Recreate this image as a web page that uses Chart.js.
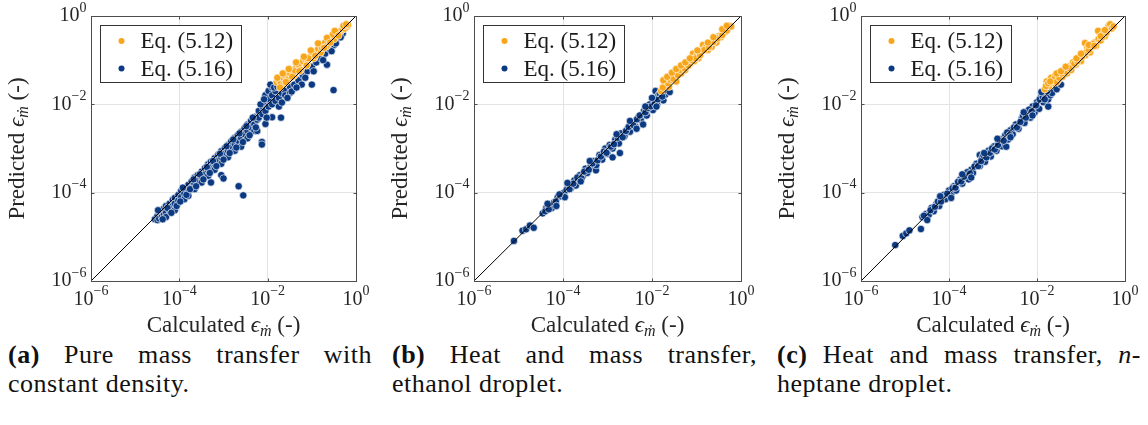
<!DOCTYPE html>
<html>
<head>
<meta charset="utf-8">
<script src="https://cdn.jsdelivr.net/npm/chart.js@4.4.0/dist/chart.umd.min.js"></script>
<style>
  body { margin: 0; background: #fff; }
  #wrap { position: relative; width: 1148px; height: 425px; overflow: hidden; }
  canvas { position: absolute; top: 0; }
  .cap { position: absolute; top: 340px; font: 26px "Liberation Serif", serif; letter-spacing: 0.5px; line-height: 29px; color: #111; }
  .cap .l1 { text-align: justify; text-align-last: justify; white-space: nowrap; }
</style>
</head>
<body>
<div id="wrap">
  <canvas id="chartA" width="380" height="340" style="left:0px"></canvas>
  <canvas id="chartB" width="380" height="340" style="left:380px"></canvas>
  <canvas id="chartC" width="388" height="340" style="left:760px"></canvas>

  <div class="cap" style="left:8px; width:364px">
    <div class="l1"><b>(a)</b> Pure mass transfer with</div>
    <div>constant density.</div>
  </div>
  <div class="cap" style="left:392px; width:365px">
    <div class="l1"><b>(b)</b> Heat and mass transfer,</div>
    <div>ethanol droplet.</div>
  </div>
  <div class="cap" style="left:777px; width:364px">
    <div class="l1"><b>(c)</b> Heat and mass transfer, <i>n</i>-</div>
    <div>heptane droplet.</div>
  </div>
</div>

<script>
// log axes, same decades on x and y
const tickValues = [1e-6, 1e-4, 1e-2, 1];
const tickExponents = ['\u22126', '\u22124', '\u22122', '0'];
const seriesNames = ['Eq. (5.12)', 'Eq. (5.16)'];
const identityLine = [[1e-6, 1e-6], [1, 1]];
const xTitle = ['Calculated ', '\u03F5', '\u1E41', ' (-)'];
const yTitle = ['Predicted ', '\u03F5', '\u1E41', ' (-)'];

const ORANGE = '#f7a61c';
const NAVY = '#0b3a83';

// pairs are [calculated, predicted]

// (a) pure mass transfer, constant density
const pureBlue = [
  [2.8e-5,2.5e-5],[3.2e-5,3.0e-5],[3.2e-5,2.4e-5],[3.5e-5,3.5e-5],[3.5e-5,2.6e-5],[4.0e-5,3.8e-5],
  [4.0e-5,2.8e-5],[4.5e-5,4.4e-5],[4.5e-5,3.2e-5],[5.0e-5,5.0e-5],[5.0e-5,3.5e-5],[5.0e-5,2.8e-5],
  [6.0e-5,5.6e-5],[6.0e-5,4.0e-5],[7.1e-5,6.9e-5],[7.1e-5,5.0e-5],[7.9e-5,7.6e-5],[7.9e-5,5.6e-5],
  [7.9e-5,4.0e-5],[9.5e-5,8.9e-5],[9.5e-5,6.6e-5],[1.1e-4,1.1e-4],[1.1e-4,7.9e-5],[1.3e-4,1.26e-4],
  [1.3e-4,9.5e-5],[1.3e-4,7.1e-5],[1.6e-4,1.5e-4],[1.6e-4,1.1e-4],[1.6e-4,8.5e-5],[1.9e-4,1.8e-4],
  [1.9e-4,1.3e-4],[2.2e-4,2.2e-4],[2.2e-4,1.6e-4],[2.2e-4,1.2e-4],[2.6e-4,2.5e-4],[2.6e-4,1.9e-4],
  [3.2e-4,3.0e-4],[3.2e-4,2.2e-4],[3.2e-4,1.7e-4],[3.8e-4,3.6e-4],[3.8e-4,2.6e-4],[4.5e-4,4.4e-4],
  [4.5e-4,3.2e-4],[4.5e-4,2.4e-4],[5.2e-4,5.0e-4],[5.2e-4,3.8e-4],[5.2e-4,1.7e-4],[6.3e-4,6.0e-4],
  [6.3e-4,4.5e-4],[6.3e-4,3.3e-4],[7.6e-4,7.2e-4],[7.6e-4,5.2e-4],[8.9e-4,8.7e-4],[8.9e-4,6.3e-4],
  [8.9e-4,4.5e-4],[8.9e-4,2.5e-4],[1.0e-3,2.1e-4],[1.07e-3,1.02e-3],[1.07e-3,7.6e-4],[1.26e-3,1.2e-3],
  [1.26e-3,8.9e-4],[1.26e-3,6.3e-4],[1.5e-3,1.45e-3],[1.5e-3,1.05e-3],[1.8e-3,1.75e-3],[1.8e-3,1.26e-3],
  [1.8e-3,8.9e-4],[2.1e-3,2.0e-3],[2.1e-3,1.5e-3],[2.2e-3,1.4e-4],[2.5e-3,2.4e-3],[2.5e-3,1.75e-3],
  [2.5e-3,1.1e-3],[2.8e-3,8.7e-5],[3.0e-3,2.9e-3],[3.0e-3,2.1e-3],[3.5e-3,3.5e-3],[3.5e-3,2.5e-3],
  [3.5e-3,1.7e-3],[4.2e-3,4.2e-3],[4.2e-3,3.0e-3],[5.0e-3,5.2e-3],[5.0e-3,3.5e-3],[5.0e-3,2.5e-3],
  [5.8e-3,4.5e-3],[5.8e-3,2.5e-3],[6.3e-3,7.1e-3],[6.3e-3,5.0e-3],[7.4e-3,1.4e-3],[7.4e-3,1.23e-3],
  [7.6e-3,8.9e-3],[7.6e-3,6.0e-3],[8.9e-3,1.6e-2],[8.9e-3,1.1e-2],[8.9e-3,7.1e-3],[8.9e-3,3.6e-3],
  [1.05e-2,2.0e-2],[1.05e-2,1.3e-2],[1.05e-2,8.9e-3],[1.26e-2,2.4e-2],[1.26e-2,1.6e-2],[1.26e-2,1.0e-2],
  [1.26e-2,5.1e-3],[1.5e-2,2.8e-2],[1.5e-2,2.0e-2],[1.5e-2,1.2e-2],[1.8e-2,1.4e-2],[1.8e-2,8.9e-3],
  [2.0e-2,5.0e-3],[2.1e-2,1.8e-2],[2.1e-2,1.1e-2],[2.5e-2,2.0e-2],[2.5e-2,1.6e-2],[3.2e-2,2.5e-2],
  [3.2e-2,1.8e-2],[3.5e-2,1.95e-2],[4.0e-2,2.8e-2],[5.0e-2,3.5e-2],[5.9e-2,2.8e-2],[6.3e-2,4.5e-2],
  [7.9e-2,5.6e-2],[0.1,7.1e-2],[0.1,2.8e-2],[0.126,8.9e-2],[0.16,0.11],[0.2,0.14],[0.22,7.9e-2],
  [0.25,0.18],[0.31,2.1e-2],[0.32,0.22],[0.4,0.32],[0.5,0.4],
  [3.3e-5,4.0e-5],[4.2e-5,2.5e-5],[5.4e-5,4.5e-5],[6.6e-5,3.5e-5],[8.7e-5,5.0e-5],[1.05e-4,6.3e-5],
  [1.2e-4,1.3e-4],[1.45e-4,8.9e-5],[1.75e-4,1.2e-4],[2.1e-4,2.0e-4],[2.4e-4,1.4e-4],[2.9e-4,2.6e-4],
  [3.5e-4,2.0e-4],[4.2e-4,3.8e-4],[4.9e-4,2.8e-4],[5.8e-4,5.2e-4],[6.9e-4,4.0e-4],[8.3e-4,7.6e-4],
  [1.0e-3,5.6e-4],[1.17e-3,1.12e-3],[1.38e-3,7.9e-4],[1.66e-3,1.6e-3],[1.95e-3,1.05e-3],[2.3e-3,2.2e-3],
  [2.75e-3,1.4e-3],[3.3e-3,3.2e-3],[3.9e-3,2.0e-3],[4.6e-3,5.0e-3],[5.4e-3,3.0e-3],[6.9e-3,1.0e-2],
  [8.3e-3,1.3e-2],[9.5e-3,5.0e-3],[1.15e-2,2.8e-2],[1.4e-2,2.4e-2],[1.66e-2,2.5e-2],[2.8e-2,1.4e-2],
  [4.5e-2,2.4e-2],[7.1e-2,4.0e-2],[0.11,5.6e-2],[0.18,0.1],[0.28,0.16],[0.35,0.24],[0.45,0.33]
];
const pureOrange = [
  [1.6e-2,3.2e-2],[1.8e-2,3.5e-2],[2.0e-2,3.0e-2],[2.2e-2,4.0e-2],[2.5e-2,4.5e-2],[2.8e-2,3.5e-2],
  [3.2e-2,5.2e-2],[3.5e-2,6.0e-2],[4.0e-2,4.5e-2],[4.5e-2,7.1e-2],[5.0e-2,7.9e-2],[5.6e-2,6.0e-2],
  [6.3e-2,9.5e-2],[7.1e-2,0.105],[7.9e-2,8.3e-2],[8.9e-2,0.12],[0.1,0.14],[0.11,0.11],[0.126,0.16],
  [0.14,0.18],[0.16,0.15],[0.18,0.22],[0.2,0.25],[0.22,0.21],[0.25,0.3],[0.28,0.35],[0.32,0.3],
  [0.35,0.42],[0.4,0.44],[0.45,0.46],[0.5,0.5],[0.56,0.52],[0.63,0.58],[0.66,0.63],[2.4e-2,3.0e-2],
  [4.2e-2,5.6e-2],[8.3e-2,0.11],[0.17,0.19],[0.3,0.38],
  [1.66e-2,4.0e-2],[1.9e-2,2.4e-2],[2.2e-2,5.0e-2],[2.6e-2,3.2e-2],[3.0e-2,6.3e-2],[3.6e-2,4.2e-2],
  [4.4e-2,8.9e-2],[5.2e-2,5.6e-2],[6.6e-2,0.12],[7.6e-2,7.6e-2],[9.5e-2,0.166],[0.12,0.126],
  [0.138,0.24],[0.19,0.19],[0.22,0.32],[0.26,0.25],[0.33,0.46],[0.4,0.36],[0.52,0.6],[0.6,0.65]
];

// (b) heat and mass transfer, ethanol droplet
const ethanolBlue = [
  [7.9e-6,8.1e-6],[1.23e-5,1.38e-5],[1.48e-5,1.48e-5],[1.8e-5,1.8e-5],[2.2e-5,1.6e-5],[3.5e-5,3.4e-5],
  [4.2e-5,4.5e-5],[5.0e-5,5.2e-5],[5.6e-5,4.5e-5],[6.3e-5,6.0e-5],[7.6e-5,7.9e-5],[8.9e-5,8.3e-5],
  [1.05e-4,1.0e-4],[1.1e-4,7.9e-5],[1.3e-4,1.4e-4],[1.5e-4,1.26e-4],[1.8e-4,1.9e-4],[1.95e-4,1.45e-4],
  [2.4e-4,2.5e-4],[2.8e-4,2.4e-4],[3.2e-4,3.5e-4],[3.5e-4,2.8e-4],[4.2e-4,4.0e-4],[5.0e-4,5.2e-4],
  [5.5e-4,3.2e-4],[5.6e-4,4.2e-4],[6.6e-4,7.1e-4],[7.6e-4,5.6e-4],[8.9e-4,1.0e-3],[1.0e-3,7.6e-4],
  [1.12e-3,1.2e-3],[1.3e-3,1.0e-3],[1.3e-3,6.3e-4],[1.5e-3,1.6e-3],[1.8e-3,1.3e-3],[1.9e-3,7.9e-4],
  [2.0e-3,2.2e-3],[2.4e-3,1.9e-3],[2.8e-3,2.8e-3],[3.2e-3,2.4e-3],[3.5e-3,3.8e-3],[4.2e-3,3.2e-3],
  [5.0e-3,5.2e-3],[5.6e-3,4.4e-3],[6.3e-3,3.5e-3],[6.6e-3,7.1e-3],[7.6e-3,5.6e-3],[8.9e-3,1.0e-2],
  [1.0e-2,7.9e-3],[1.05e-2,7.4e-3],[1.12e-2,1.26e-2],[1.2e-2,2.0e-2],[1.3e-2,1.0e-2],[1.4e-2,1.6e-2],
  [1.6e-2,1.4e-2],[1.8e-2,1.23e-2],[1.8e-2,1.9e-2],[2.0e-2,1.66e-2],[2.2e-2,2.1e-2],[2.5e-2,1.9e-2],
  [4.0e-5,3.8e-5],[4.8e-5,4.2e-5],[6.9e-5,6.3e-5],[8.3e-5,9.1e-5],[1.2e-4,1.15e-4],[1.4e-4,1.2e-4],
  [1.7e-4,1.6e-4],[2.1e-4,2.2e-4],[2.6e-4,2.1e-4],[3.0e-4,3.0e-4],[3.8e-4,3.3e-4],[4.6e-4,4.6e-4],
  [6.0e-4,5.4e-4],[7.1e-4,6.6e-4],[8.3e-4,8.5e-4],[9.5e-4,8.0e-4],[1.2e-3,1.1e-3],[1.4e-3,1.25e-3],
  [1.7e-3,1.75e-3],[2.2e-3,1.8e-3],[2.6e-3,2.5e-3],[3.0e-3,3.1e-3],[3.8e-3,3.4e-3],[4.6e-3,4.6e-3],
  [5.3e-3,5.6e-3],[7.1e-3,6.6e-3],[8.3e-3,8.3e-3],[9.5e-3,9.0e-3],[1.15e-2,1.05e-2],[1.35e-2,1.3e-2],
  [1.5e-2,1.75e-2],[1.7e-2,1.5e-2],
  [4.5e-5,5.6e-5],[7.1e-5,5.0e-5],[1.26e-4,1.66e-4],[2.5e-4,1.8e-4],[4.0e-4,5.2e-4],[1.6e-3,2.1e-3],
  [3.2e-3,4.2e-3],[4.5e-3,2.8e-3],[7.1e-3,8.9e-3],[1.0e-2,1.4e-2],[1.26e-2,8.9e-3]
];
const ethanolOrange = [
  [1.6e-2,2.0e-2],[1.9e-2,2.8e-2],[2.1e-2,3.3e-2],[2.4e-2,2.5e-2],[2.8e-2,4.0e-2],[3.2e-2,4.5e-2],
  [3.5e-2,3.3e-2],[4.0e-2,5.6e-2],[4.5e-2,5.0e-2],[5.0e-2,7.1e-2],[5.6e-2,6.0e-2],[6.3e-2,8.3e-2],
  [7.1e-2,8.1e-2],[8.3e-2,0.14],[8.9e-2,9.5e-2],[0.1,0.126],[0.11,0.11],[0.126,0.15],[0.14,0.22],
  [0.16,0.19],[0.18,0.17],[0.2,0.22],[0.22,0.2],[0.25,0.28],[0.28,0.25],[0.32,0.35],[0.35,0.33],
  [0.4,0.42],[0.45,0.44],[0.5,0.52],[0.54,0.6],[0.56,0.56],
  [1.75e-2,2.4e-2],[2.3e-2,3.0e-2],[2.6e-2,3.6e-2],[3.0e-2,3.8e-2],[3.8e-2,4.6e-2],[4.3e-2,6.0e-2],
  [5.3e-2,6.6e-2],[6.6e-2,7.6e-2],[7.6e-2,0.1],[9.5e-2,0.11],[0.12,0.13],[0.15,0.17],[0.19,0.2],
  [0.24,0.26],[0.3,0.31],[0.38,0.37],[0.48,0.47],[0.6,0.58],
  [1.8e-2,3.5e-2],[2.2e-2,4.2e-2],[2.8e-2,5.2e-2],[3.5e-2,6.3e-2],[4.5e-2,7.6e-2],[5.6e-2,8.9e-2],
  [7.1e-2,0.11],[0.105,0.166],[0.18,0.25],[0.24,0.33],[0.38,0.5],[0.48,0.6]
];

// (c) heat and mass transfer, n-heptane droplet
const heptaneBlue = [
  [6.0e-6,6.5e-6],[8.9e-6,1.05e-5],[1.07e-5,1.2e-5],[1.26e-5,1.4e-5],[2.3e-5,1.5e-5],[2.5e-5,2.8e-5],
  [3.0e-5,3.3e-5],[3.5e-5,3.2e-5],[4.0e-5,4.5e-5],[4.5e-5,3.8e-5],[5.2e-5,5.6e-5],[6.0e-5,5.0e-5],
  [7.1e-5,7.9e-5],[8.3e-5,7.1e-5],[1.0e-4,1.12e-4],[1.12e-4,8.9e-5],[1.3e-4,1.4e-4],[1.45e-4,1.12e-4],
  [1.8e-4,2.0e-4],[2.0e-4,1.6e-4],[2.4e-4,2.4e-4],[2.8e-4,2.0e-4],[3.2e-4,3.3e-4],[3.5e-4,2.8e-4],
  [4.2e-4,4.5e-4],[5.0e-4,7.1e-4],[5.0e-4,4.0e-4],[5.6e-4,6.0e-4],[6.6e-4,5.0e-4],[7.9e-4,8.9e-4],
  [8.9e-4,6.6e-4],[1.05e-3,1.12e-3],[1.2e-3,8.9e-4],[1.4e-3,1.4e-3],[1.6e-3,1.12e-3],[1.9e-3,2.0e-3],
  [2.0e-3,1.1e-3],[2.2e-3,1.6e-3],[2.5e-3,2.6e-3],[2.8e-3,2.1e-3],[3.3e-3,3.5e-3],[3.8e-3,2.8e-3],
  [4.5e-3,4.8e-3],[5.2e-3,3.8e-3],[6.0e-3,6.6e-3],[7.1e-3,5.0e-3],[7.9e-3,8.9e-3],[8.9e-3,6.6e-3],
  [1.0e-2,1.12e-2],[1.12e-2,7.9e-3],[1.26e-2,1.6e-2],[1.4e-2,1.12e-2],[1.6e-2,1.9e-2],[1.8e-2,8.9e-3],
  [1.8e-2,1.3e-2],[2.0e-2,1.6e-2],[2.2e-2,1.8e-2],[2.8e-2,2.2e-2],[3.5e-2,2.8e-2],
  [2.7e-5,3.0e-5],[3.8e-5,4.0e-5],[4.8e-5,4.8e-5],[5.6e-5,6.3e-5],[6.6e-5,6.3e-5],[7.6e-5,8.9e-5],
  [9.1e-5,9.5e-5],[1.2e-4,1.26e-4],[1.4e-4,1.3e-4],[1.6e-4,1.75e-4],[1.9e-4,1.8e-4],[2.2e-4,2.3e-4],
  [2.6e-4,2.9e-4],[3.0e-4,2.7e-4],[3.8e-4,3.9e-4],[4.6e-4,4.0e-4],[5.4e-4,5.2e-4],[6.0e-4,7.1e-4],
  [7.1e-4,6.3e-4],[8.5e-4,8.0e-4],[9.5e-4,1.0e-3],[1.1e-3,9.5e-4],[1.3e-3,1.2e-3],[1.5e-3,1.6e-3],
  [1.75e-3,1.5e-3],[2.1e-3,2.3e-3],[2.4e-3,2.0e-3],[3.0e-3,3.0e-3],[3.5e-3,3.0e-3],[4.2e-3,4.0e-3],
  [4.8e-3,5.5e-3],[5.6e-3,5.0e-3],[6.6e-3,7.6e-3],[7.6e-3,6.9e-3],[9.5e-3,9.5e-3],[1.15e-2,1.3e-2],
  [1.35e-2,1.45e-2],[1.5e-2,1.3e-2],[1.7e-2,2.0e-2],
  [3.2e-5,2.4e-5],[6.3e-5,8.3e-5],[1.12e-4,7.6e-5],[2.0e-4,2.6e-4],[3.2e-4,2.2e-4],[6.3e-4,7.9e-4],
  [1.26e-3,1.66e-3],[2.5e-3,1.8e-3],[5.0e-3,6.6e-3],[7.9e-3,5.6e-3],[1.26e-2,1.9e-2],[1.8e-2,2.4e-2]
];
const heptaneOrange = [
  [1.5e-2,2.2e-2],[1.66e-2,3.3e-2],[1.9e-2,2.6e-2],[2.1e-2,4.0e-2],[2.4e-2,3.0e-2],[2.6e-2,4.5e-2],
  [3.0e-2,3.5e-2],[3.3e-2,4.8e-2],[3.8e-2,4.2e-2],[4.2e-2,6.0e-2],[4.8e-2,5.0e-2],[5.2e-2,7.1e-2],
  [6.0e-2,6.0e-2],[6.6e-2,8.9e-2],[7.6e-2,7.9e-2],[8.9e-2,0.11],[0.1,9.5e-2],[0.11,0.14],
  [0.123,0.245],[0.126,0.13],[0.14,0.19],[0.16,0.15],[0.18,0.2],[0.2,0.25],[0.22,0.21],[0.245,0.46],
  [0.25,0.3],[0.28,0.28],[0.32,0.4],[0.35,0.35],[0.4,0.5],[0.42,0.59],[0.46,0.65],[0.5,0.52],
  [1.6e-2,2.6e-2],[1.8e-2,3.0e-2],[2.2e-2,3.3e-2],[2.5e-2,3.8e-2],[2.8e-2,3.2e-2],[3.2e-2,4.0e-2],
  [3.6e-2,5.0e-2],[4.5e-2,5.5e-2],[5.5e-2,6.6e-2],[7.1e-2,8.3e-2],[8.3e-2,9.5e-2],[0.105,0.12],
  [0.13,0.15],[0.15,0.17],[0.19,0.23],[0.3,0.33],[0.38,0.42],[0.55,0.58],
  [2.0e-2,3.3e-2],[2.8e-2,5.0e-2],[3.5e-2,5.6e-2],[4.5e-2,7.1e-2],[7.9e-2,0.11],[0.1,0.14],
  [0.15,0.22],[0.2,0.21],[0.28,0.35],[0.35,0.48]
];

const serif = '"Liberation Serif", serif';
const toXY = arr => arr.map(p => ({ x: p[0], y: p[1] }));

// one line of mixed text: upright, italic epsilon, lowered italic m-dot, upright
function richText(ctx, parts, cx, cy) {
  const fonts = ['23px ' + serif, 'italic 23px ' + serif, 'italic 16px ' + serif, '23px ' + serif];
  const drop = [0, 0, 6, 0];
  const widths = parts.map((t, i) => { ctx.font = fonts[i]; return ctx.measureText(t).width; });
  let x = cx - widths.reduce((a, b) => a + b, 0) / 2;
  ctx.textBaseline = 'middle';
  ctx.textAlign = 'left';
  parts.forEach((t, i) => {
    ctx.font = fonts[i];
    ctx.fillText(t, x, cy + drop[i]);
    x += widths[i];
  });
}

// "10" with a raised exponent; anchor is 'center' or 'right'
function powerLabel(ctx, exp, x, y, anchor) {
  const base = '20px ' + serif, sup = '14px ' + serif;
  ctx.font = base;
  const wb = ctx.measureText('10').width;
  ctx.font = sup;
  const we = ctx.measureText(exp).width;
  const x0 = anchor === 'center' ? x - (wb + we) / 2 : x - wb - we;
  ctx.textBaseline = 'middle';
  ctx.textAlign = 'left';
  ctx.font = base;
  ctx.fillText('10', x0, y);
  ctx.font = sup;
  ctx.fillText(exp, x0 + wb, y - 8);
}

// box, inward ticks, tick labels, legend and axis titles
const decorations = {
  id: 'decorations',
  afterDraw(chart) {
    const { ctx, chartArea: a, scales } = chart;
    const L = Math.round(a.left) + 0.5, R = Math.round(a.right) + 0.5;
    const T = Math.round(a.top) + 0.5, B = Math.round(a.bottom) + 0.5;
    ctx.save();
    ctx.strokeStyle = '#4d4d4d';
    ctx.lineWidth = 1;
    ctx.strokeRect(L, T, R - L, B - T);
    ctx.beginPath();
    tickValues.forEach(v => {
      const px = Math.round(scales.x.getPixelForValue(v)) + 0.5;
      const py = Math.round(scales.y.getPixelForValue(v)) + 0.5;
      ctx.moveTo(px, B); ctx.lineTo(px, B - 3);
      ctx.moveTo(px, T); ctx.lineTo(px, T + 3);
      ctx.moveTo(L, py); ctx.lineTo(L + 3, py);
      ctx.moveTo(R, py); ctx.lineTo(R - 3, py);
    });
    ctx.stroke();

    ctx.fillStyle = '#262626';
    tickValues.forEach((v, i) => {
      powerLabel(ctx, tickExponents[i], scales.x.getPixelForValue(v), B + 18, 'center');
      powerLabel(ctx, tickExponents[i], L - 5, scales.y.getPixelForValue(v), 'right');
    });

    // legend
    const lx = L + 9, ly = T + 9;
    ctx.fillStyle = '#fff';
    ctx.fillRect(lx, ly, 141, 57);
    ctx.strokeStyle = '#333';
    ctx.strokeRect(lx, ly, 141, 57);
    chart.data.datasets.filter(d => seriesNames.includes(d.label)).forEach((d, i) => {
      const cy = ly + 15.5 + i * 27.5;
      ctx.fillStyle = d.backgroundColor;
      ctx.beginPath();
      ctx.arc(lx + 21, cy, 3, 0, Math.PI * 2);
      ctx.fill();
      ctx.fillStyle = '#1a1a1a';
      ctx.font = '23px ' + serif;
      ctx.textBaseline = 'middle';
      ctx.textAlign = 'left';
      ctx.fillText(d.label, lx + 40, cy + 1);
    });

    // axis titles
    ctx.fillStyle = '#262626';
    richText(ctx, xTitle, (a.left + a.right) / 2, a.bottom + 45);
    ctx.translate(a.left - 73, (a.top + a.bottom) / 2);
    ctx.rotate(-Math.PI / 2);
    richText(ctx, yTitle, 0, 0);
    ctx.restore();
  }
};

function logAxis(isX, size) {
  return {
    type: 'logarithmic',
    min: 1e-6,
    max: 1,
    afterBuildTicks: s => { s.ticks = tickValues.map(v => ({ value: v })); },
    afterFit: s => { if (isX) s.height = size; else s.width = size; },
    ticks: { display: false },
    grid: { color: '#e4e4e4', drawTicks: false },
    border: { display: false }
  };
}

const renderPanel = (id, blue, orange, yWidth, rightPad) => {
  const ctx = document.getElementById(id).getContext('2d');
  new Chart(ctx, {
    type: 'scatter',
    data: {
      datasets: [
        {
          label: seriesNames[0],
          data: toXY(orange),
          backgroundColor: ORANGE,
          borderColor: 'rgba(255,255,255,0.7)',
          borderWidth: 0.9,
          pointRadius: 3.7,
          order: 1
        },
        {
          label: seriesNames[1],
          data: toXY(blue),
          backgroundColor: NAVY,
          borderColor: 'rgba(255,255,255,0.7)',
          borderWidth: 0.9,
          pointRadius: 3.7,
          order: 2
        },
        {
          label: '',
          data: toXY(identityLine),
          showLine: true,
          borderColor: '#000',
          borderWidth: 1,
          pointRadius: 0,
          order: 0
        }
      ]
    },
    options: {
      responsive: false,
      animation: false,
      devicePixelRatio: 1,
      layout: { padding: { top: 16, right: rightPad, left: 0, bottom: 0 } },
      plugins: { legend: { display: false }, tooltip: { enabled: false } },
      scales: {
        x: logAxis(true, 59),
        y: logAxis(false, yWidth)
      }
    },
    plugins: [decorations]
  });
};

renderPanel('chartA', pureBlue, pureOrange, 91, 24);
renderPanel('chartB', ethanolBlue, ethanolOrange, 94, 19);
renderPanel('chartC', heptaneBlue, heptaneOrange, 101, 23);
</script>
</body>
</html>
